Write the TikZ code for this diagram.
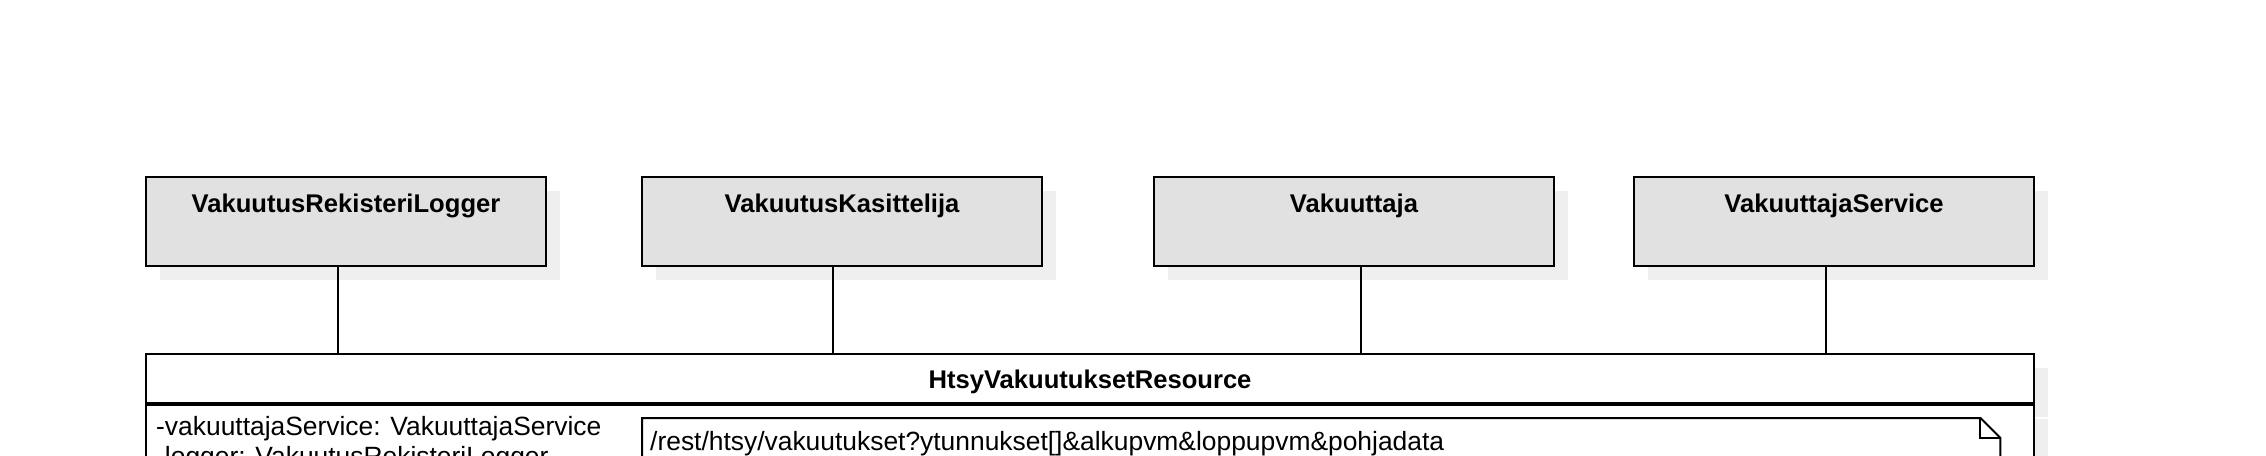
\documentclass[tikz,border=0pt]{standalone}
\usepackage{fontspec}
\setmainfont{Liberation Sans}
\usetikzlibrary{shadows}
\definecolor{boxfill}{HTML}{E1E1E1}
\definecolor{shadowc}{HTML}{EFEFEF}
\newcommand{\titlefont}{\fontsize{25.6}{30}\selectfont\bfseries}
\newcommand{\textfnt}{\fontsize{26.4}{30}\selectfont}
\begin{document}
\begin{tikzpicture}[x=1pt,y=-1pt,
  shadowed/.style={general shadow={fill=shadowc, shadow xshift=14pt, shadow yshift=-14pt}},
  classbox/.style={draw, line width=2pt, fill=boxfill, minimum width=400pt, minimum height=89pt,
    inner sep=0pt, text height=35pt, text depth=54pt, font=\titlefont, shadowed},
  headbox/.style={draw, line width=2pt, fill=white, minimum width=1888pt, minimum height=49pt,
    inner sep=0pt, text height=34pt, text depth=15pt, font=\titlefont, shadowed},
  bodybox/.style={draw, line width=2pt, fill=white, minimum width=1888pt, minimum height=300pt,
    inner sep=0pt, shadowed},
  conn/.style={line width=2pt},
  txt/.style={font=\textfnt, inner sep=0pt, anchor=base west}]
\useasboundingbox (0,0) rectangle (2266,455);
\begin{scope}
\clip (0,0) rectangle (2266,455);
\node[classbox] (b1) at (346,221.5) {VakuutusRekisteriLogger};
\node[classbox] (b2) at (842,221.5) {VakuutusKasittelija};
\node[classbox] (b3) at (1354,221.5) {Vakuuttaja};
\node[classbox] (b4) at (1834,221.5) {VakuuttajaService};
\node[headbox] (res) at (1090,378.5) {HtsyVakuutuksetResource};
\node[bodybox, anchor=north] (body) at (res.south) {};
\draw[conn] ([xshift=-8pt]b1.south) -- ([xshift=-8pt]b1.south |- res.north);
\draw[conn] ([xshift=-9pt]b2.south) -- ([xshift=-9pt]b2.south |- res.north);
\draw[conn] ([xshift=7pt]b3.south) -- ([xshift=7pt]b3.south |- res.north);
\draw[conn] ([xshift=-8pt]b4.south) -- ([xshift=-8pt]b4.south |- res.north);
\node[txt] (a1) at ([xshift=11pt,yshift=-31pt]body.north west) {-vakuuttajaService: VakuuttajaService};
\node[txt] (a2) at ([yshift=-30pt]a1.base west) {-logger: VakuutusRekisteriLogger};
\node[minimum width=1358pt, minimum height=300pt, inner sep=0pt, anchor=north west] (note) at (642,418) {};
\draw[conn] (note.north west) -- ([xshift=-20pt]note.north east) -- ([yshift=-20pt]note.north east)
  -- (note.south east) -- (note.south west) -- cycle;
\draw[conn] ([xshift=-20pt]note.north east) -- ([xshift=-20pt,yshift=-20pt]note.north east) -- ([yshift=-20pt]note.north east);
\node[txt] (nt) at ([xshift=8pt,yshift=-32pt]note.north west) {/rest/htsy/vakuutukset?ytunnukset[]\&alkupvm\&loppupvm\&pohjadata};
\end{scope}
\end{tikzpicture}
\end{document}
